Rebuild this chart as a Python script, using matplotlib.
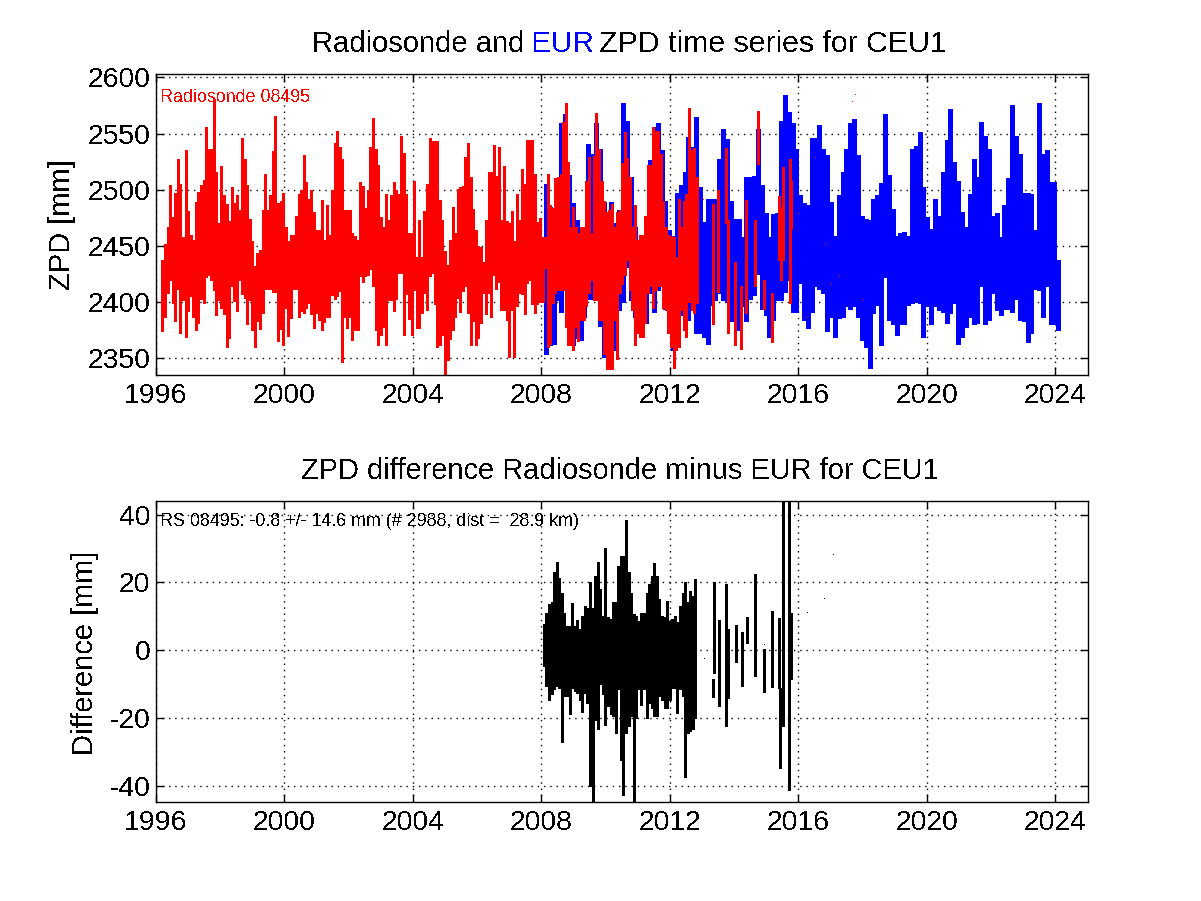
import numpy as np
import matplotlib
matplotlib.use('Agg')
import matplotlib.pyplot as plt

plt.rcParams['font.family'] = ['Liberation Sans', 'DejaVu Sans']
plt.rcParams['axes.unicode_minus'] = False
plt.rcParams['text.antialiased'] = False

# radiosonde ZPD, envelope per 0.08 yr starting at 1996.2 [mm]
rs_high = [
    2437, 2452, 2467, 2504, 2476, 2497, 2527, 2505, 2458, 2535, 2481, 2460, 2455, 2489, 2498, 2504, 2509, 2556, 2536, 2536, 2581, 2516, 2470, 2521, 2495,
    2487, 2472, 2502, 2488, 2495, 2482, 2546, 2527, 2504, 2474, 2454, 2432, 2444, 2446, 2482, 2514, 2482, 2495, 2534, 2566, 2488, 2490, 2497, 2467, 2454,
    2460, 2460, 2477, 2496, 2500, 2531, 2507, 2492, 2500, 2480, 2464, 2464, 2491, 2455, 2486, 2460, 2500, 2542, 2552, 2538, 2527, 2482, 2482, 2482, 2461,
    2459, 2455, 2507, 2503, 2484, 2500, 2538, 2564, 2536, 2522, 2476, 2467, 2496, 2473, 2495, 2507, 2500, 2496, 2548, 2533, 2496, 2461, 2461, 2508, 2440,
    2473, 2440, 2481, 2505, 2546, 2543, 2543, 2543, 2491, 2473, 2445, 2433, 2455, 2485, 2461, 2501, 2502, 2503, 2529, 2542, 2511, 2483, 2464, 2450, 2449,
    2436, 2473, 2516, 2516, 2540, 2512, 2538, 2473, 2521, 2472, 2470, 2481, 2454, 2496, 2473, 2518, 2505, 2544, 2544, 2544, 2514, 2471, 2475, 2458, 2458,
    2514, 2486, 2484, 2510, 2511, 2514, 2560, 2577, 2525, 2467, 2485, 2467, 2461, 2467, 2467, 2508, 2529, 2461, 2530, 2568, 2536, 2508, 2490, 2480, 2482,
    2487, 2467, 2480, 2482, 2524, 2551, 2528, 2511, 2467, 2486, 2455, 2460, 2460, 2477, 2522, 2522, 2556, 2552, 2552, 2532, 2490, 2467, 2460, 2459, 2458,
    2440, 2492, 2467, 2490, 2496, 2573, 2535, 2537, 2511,
]
rs_low = [
    2374, 2387, 2408, 2420, 2399, 2383, 2412, 2372, 2402, 2369, 2392, 2405, 2387, 2375, 2381, 2403, 2399, 2422, 2424, 2420, 2411, 2388, 2402, 2395, 2389,
    2360, 2368, 2414, 2401, 2392, 2420, 2407, 2404, 2380, 2402, 2375, 2360, 2383, 2376, 2390, 2412, 2412, 2412, 2409, 2409, 2365, 2376, 2362, 2395, 2370,
    2386, 2412, 2412, 2387, 2392, 2390, 2395, 2399, 2389, 2377, 2390, 2384, 2375, 2382, 2387, 2387, 2406, 2403, 2405, 2410, 2347, 2387, 2377, 2387, 2366,
    2375, 2375, 2423, 2418, 2423, 2424, 2429, 2414, 2375, 2362, 2371, 2378, 2362, 2402, 2402, 2392, 2403, 2426, 2426, 2371, 2407, 2385, 2371, 2411, 2377,
    2377, 2390, 2408, 2393, 2423, 2426, 2398, 2360, 2362, 2371, 2335, 2348, 2367, 2375, 2387, 2404, 2391, 2410, 2414, 2390, 2362, 2383, 2362, 2368, 2381,
    2408, 2389, 2408, 2387, 2424, 2412, 2418, 2393, 2393, 2384, 2351, 2393, 2351, 2396, 2408, 2407, 2389, 2417, 2420, 2398, 2390, 2398, 2400, 2400, 2430,
    2360, 2363, 2399, 2408, 2411, 2411, 2411, 2378, 2362, 2362, 2357, 2378, 2365, 2384, 2384, 2396, 2408, 2420, 2402, 2402, 2384, 2384, 2354, 2340, 2340,
    2340, 2384, 2349, 2408, 2416, 2424, 2437, 2411, 2393, 2362, 2372, 2369, 2369, 2381, 2408, 2414, 2395, 2411, 2414, 2414, 2395, 2393, 2372, 2360, 2341,
    2357, 2360, 2393, 2375, 2369, 2400, 2393, 2390, 2399,
]

# radiosonde after 2013: only short stretches
rs_gap_years = [2013.36, 2013.52, 2013.76, 2013.83, 2014.04, 2014.23, 2014.39, 2014.65, 2014.75, 2014.93, 2015.19, 2015.40, 2015.46, 2015.52, 2015.74, 2015.77]
rs_gap_high = [2487, 2500, 2537, 2473, 2436, 2414, 2491, 2473, 2570, 2420, 2408, 2494, 2485, 2520, 2527, 2508]
rs_gap_low = [2380, 2409, 2470, 2372, 2362, 2358, 2390, 2414, 2523, 2394, 2364, 2437, 2420, 2437, 2399, 2465]

rs_dot_years = [2017.77, 2017.68, 2016.52, 2016.02, 2013.05, 2016.83, 2017.27, 2017.01, 2018.02, 2016.26]
rs_dot_zpd = [2584, 2578, 2528, 2478, 2491, 2451, 2423, 2416, 2401, 2386]

# EUR ZPD, envelope per 0.12 yr starting at 2008.146 [mm]
eur_high = [
    2505, 2485, 2473, 2505, 2559, 2567, 2513, 2488, 2473, 2467, 2464, 2541, 2532, 2559, 2536,
    2489, 2478, 2489, 2470, 2482, 2577, 2561, 2511, 2467, 2455, 2460, 2477, 2526, 2556, 2559, 2535, 2490, 2464, 2459, 2497,
    2504, 2516, 2547, 2538, 2565, 2502, 2471, 2492, 2492, 2492, 2527, 2554, 2545, 2490, 2474, 2474, 2458, 2511, 2511, 2512,
    2554, 2504, 2479, 2458, 2478, 2479, 2561, 2584, 2569, 2559, 2536, 2495, 2488, 2486, 2546, 2546, 2558, 2536, 2531, 2489,
    2459, 2495, 2516, 2536, 2559, 2563, 2531, 2477, 2474, 2473, 2492, 2495, 2506, 2567, 2513, 2483, 2459, 2461, 2462, 2459,
    2536, 2539, 2551, 2502, 2476, 2465, 2492, 2477, 2516, 2544, 2572, 2525, 2508, 2480, 2467, 2496, 2527, 2511, 2560, 2548,
    2536, 2477, 2479, 2458, 2486, 2510, 2575, 2548, 2532, 2497, 2497, 2496, 2464, 2577, 2532, 2535, 2507, 2507, 2437,
]
eur_low = [
    2354, 2362, 2363, 2402, 2391, 2425, 2366, 2362, 2368, 2366, 2387, 2403, 2403, 2403, 2379,
    2351, 2340, 2354, 2357, 2393, 2400, 2431, 2402, 2387, 2372, 2369, 2381, 2408, 2391, 2411, 2414, 2394, 2377, 2357, 2371,
    2388, 2384, 2384, 2396, 2372, 2372, 2369, 2363, 2397, 2402, 2408, 2402, 2400, 2383, 2383, 2375, 2396, 2383, 2403, 2406,
    2425, 2394, 2388, 2369, 2384, 2402, 2402, 2409, 2420, 2391, 2391, 2417, 2384, 2377, 2391, 2414, 2412, 2408, 2374, 2387,
    2369, 2386, 2387, 2396, 2394, 2396, 2387, 2366, 2360, 2341, 2390, 2397, 2362, 2422, 2384, 2380, 2371, 2380, 2380, 2397,
    2399, 2400, 2399, 2369, 2396, 2380, 2396, 2393, 2391, 2381, 2390, 2399, 2363, 2369, 2378, 2387, 2380, 2381, 2414, 2380,
    2384, 2408, 2393, 2388, 2394, 2394, 2391, 2403, 2384, 2383, 2364, 2372, 2412, 2411, 2387, 2414, 2380, 2380, 2375,
]

# difference, envelope per 0.08 yr starting at 2008.08 [mm]
diff_high = [
    7.7, 11.1, 13.6, 14.1, 23, 26.1, 21.2, 17, 11.1, 7.2, 7.2, 13.9, 7.2, 9, 6.2, 10.1, 13.1, 12.6, 20, 12.6,
    22, 26.1, 18, 10.1, 30.1, 9.7, 9.2, 14.1, 14.1, 24.9, 27.9, 27.9, 38.5, 23, 17, 10.6, 10.1, 8.7, 11.1, 11.1,
    17, 19.5, 22, 25.7, 22, 15.1, 10.1, 9.7, 14.6, 8.7, 9.2, 10.1, 8.2, 13.1, 17, 20, 14.1, 17.5, 16.1, 21,
]
diff_low = [
    -4.6, -10.5, -14.5, -13, -11.3, -10.5, -11, -27.1, -13.5, -13.5, -18.9, -11, -12, -12.5, -14.5, -18.2, -12.5, -15.5, -40.1, -44.7,
    -20.4, -23.3, -10, -13, -21.9, -16.5, -18.9, -19.4, -24.3, -11.5, -32.2, -42.6, -24.3, -22.4, -19.4, -44.7, -19.9, -11.5, -16, -11.5,
    -19.9, -15.5, -16.9, -19.4, -19.4, -13.5, -14.5, -16.9, -16.9, -14.5, -11, -11, -18.4, -11.5, -13.5, -37.3, -24.3, -23.8, -23.3, -19.9,
]

diff_gap_years = [2013.34, 2013.375, 2013.54, 2013.76, 2013.83, 2014.06, 2014.24, 2014.42, 2014.66, 2014.93, 2015.2, 2015.41, 2015.45, 2015.52, 2015.72, 2015.77]
diff_gap_high = [-8.6, 20.2, 9, 19.5, 6.4, 7.4, 5.5, 9.7, 22.5, 0.3, 11.6, 9.4, -11, 50, 50, 10.9]
diff_gap_low = [-13.7, -6.6, -16.5, -22.4, -14, -3.4, -10.5, 2.3, -7.6, -12.2, -10.7, -11, -34.7, -22.4, -41.1, -8.6]

diff_dot_years = [2013.06, 2014.23, 2016.27, 2014.7, 2014.95, 2017.1, 2016.8]
diff_dot_vals = [-2.5, -9, 11, -2.7, 1.5, 28, 15]

xticks = [1996, 2000, 2004, 2008, 2012, 2016, 2020, 2024]
zpd_ticks = [2350, 2400, 2450, 2500, 2550, 2600]
diff_ticks = [-40, -20, 0, 20, 40]

W, H = 1201, 901
rs_years = 1996.2 + 0.08 * np.arange(len(rs_high))
eur_years = 2008.146 + 0.12 * np.arange(len(eur_high))
diff_years = 2008.08 + 0.08 * np.arange(len(diff_high))


def axes_px(fig, left, top, right, bottom):
    # axes box given in image pixels
    return fig.add_axes([left / W, 1 - bottom / H, (right - left) / W, (bottom - top) / H])


def style_axes(ax, yticks, ylim):
    ax.set_xlim(1996, 2025.03)
    ax.set_ylim(*ylim)
    ax.set_xticks(xticks)
    ax.set_yticks(yticks)
    ax.tick_params(direction='in', top=True, right=True, length=6, width=1, labelsize=20.4)
    ax.tick_params(axis='x', pad=6)
    ax.tick_params(axis='y', pad=4)
    ax.grid(True, color='black', linestyle=(0, (1, 3.5)), linewidth=1)
    ax.set_axisbelow(True)
    for s in ax.spines.values():
        s.set_linewidth(1)


fig = plt.figure(figsize=(W / 100, H / 100), dpi=100)

# top panel
ax1 = axes_px(fig, 156, 74, 1088, 375)
ax1.vlines(eur_years, eur_low, eur_high, colors='#0000ff', linewidth=3.4, antialiased=False)
ax1.vlines(rs_years, rs_low, rs_high, colors='#ff0000', linewidth=2.1, antialiased=False)
ax1.vlines(rs_gap_years, rs_gap_low, rs_gap_high, colors='#ff0000', linewidth=2.1, antialiased=False)
ax1.plot(rs_dot_years, rs_dot_zpd, ',', color='#ff0000')
style_axes(ax1, zpd_ticks, (2335, 2603))
fig.text(62 / W, 1 - 225 / H, 'ZPD [mm]', fontsize=21, rotation=90, ha='center', va='center')
fig.text(160 / W, 1 - 97 / H, 'Radiosonde 08495', color='#ff0000', fontsize=12.9, va='center')

# bottom panel
ax2 = axes_px(fig, 156, 501, 1088, 802)
ax2.vlines(diff_years, diff_low, diff_high, colors='black', linewidth=2.1, antialiased=False)
ax2.vlines(diff_gap_years, diff_gap_low, diff_gap_high, colors='black', linewidth=2.1, antialiased=False)
ax2.plot(diff_dot_years, diff_dot_vals, ',', color='black')
style_axes(ax2, diff_ticks, (-44.7, 44))
fig.text(85 / W, 1 - 653 / H, 'Difference [mm]', fontsize=20.9, rotation=90, ha='center', va='center')
fig.text(160 / W, 1 - 522 / H, 'RS 08495: -0.8 +/- 14.6 mm (# 2988, dist =  28.9 km)',
         color='black', fontsize=12.9, va='center')

# titles, the top one in three colours
for x, part, col, size in [(312, 'Radiosonde and', 'black', 21), (531, 'EUR', '#0000ff', 21.4), (599, 'ZPD time series for CEU1', 'black', 21.8)]:
    fig.text(x / W, 1 - 52 / H, part, color=col, fontsize=size, va='baseline', ha='left')
fig.text(620 / W, 1 - 479 / H, 'ZPD difference Radiosonde minus EUR for CEU1',
         fontsize=20.9, va='baseline', ha='center')

fig.savefig('out.png', dpi=100)
